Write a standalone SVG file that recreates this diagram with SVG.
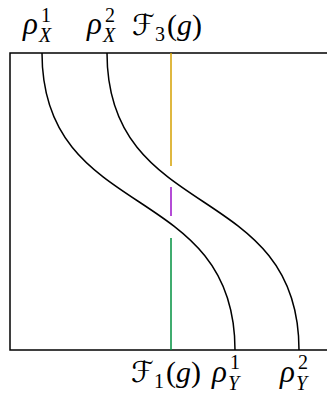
<svg xmlns="http://www.w3.org/2000/svg" width="327" height="394" viewBox="0 0 327 394">
<style>
.t{font-family:"Liberation Serif","DejaVu Serif",serif;font-size:30px;fill:#000}
.r{font-family:"Liberation Serif","DejaVu Serif",serif;font-size:31px;font-style:italic;fill:#000}
.i{font-style:italic}
.s{font-family:"Liberation Serif","DejaVu Serif",serif;font-size:20px;fill:#000}
.cal{font-family:"DejaVu Sans","DejaVu Serif",serif;font-size:29px;fill:#000}
.ln{fill:none;stroke-width:1.5}
</style>
<rect width="327" height="394" fill="#fff"/>
<g id="frame"><rect x="10" y="53" width="330" height="297" class="ln" stroke="#000"/></g>
<g id="connectors">
<path id="rho1" class="ln" stroke="#000" d="M42,53 C42,223 235,180 235,350"/>
<path id="rho2" class="ln" stroke="#000" d="M107,53 C107,223 299,180 299,350"/>
<line x1="171" y1="53" x2="171" y2="166" class="ln" stroke="#d4a000"/>
<line x1="171" y1="187" x2="171" y2="216" class="ln" stroke="#9b10c8"/>
<line x1="171" y1="238" x2="171" y2="350" class="ln" stroke="#00913f"/>
</g>
<g id="label-rhoX1"><text class="r" x="23" y="34">ρ</text><text class="s" x="41" y="22">1</text><text class="s i" x="39" y="42">X</text></g>
<g id="label-rhoX2"><text class="r" x="87" y="34">ρ</text><text class="s" x="105" y="22">2</text><text class="s i" x="103" y="42">X</text></g>
<g id="label-F3"><text class="cal" x="132" y="35">ℱ</text><text class="s" x="155" y="41">3</text><text class="t" x="167" y="35">(<tspan class="i">g</tspan>)</text></g>
<g id="label-F1"><text class="cal" x="131" y="382">ℱ</text><text class="s" x="154" y="388">1</text><text class="t" x="166" y="382">(<tspan class="i">g</tspan>)</text></g>
<g id="label-rhoY1"><text class="r" x="212" y="382">ρ</text><text class="s" x="230" y="369">1</text><text class="s i" x="228" y="390">Y</text></g>
<g id="label-rhoY2"><text class="r" x="280" y="382">ρ</text><text class="s" x="298" y="369">2</text><text class="s i" x="296" y="390">Y</text></g>
</svg>
